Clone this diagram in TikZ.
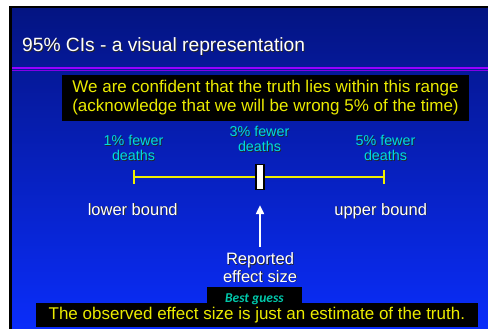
\documentclass[tikz,border=0pt]{standalone}
\usepackage{xcolor}
\usepackage{fontspec}
\setmainfont{Liberation Sans}
\newfontfamily\calib{Carlito}
\usetikzlibrary{arrows.meta}
\definecolor{slidetop}{RGB}{4,20,130}
\definecolor{slidebot}{RGB}{10,45,250}
\definecolor{rule}{RGB}{150,0,255}
\definecolor{rulethin}{RGB}{130,0,230}
\definecolor{note}{RGB}{235,235,0}
\definecolor{cilabel}{RGB}{0,220,220}
\definecolor{guess}{RGB}{0,200,170}
\definecolor{ciline}{RGB}{240,240,0}
\newcommand\shtext[1]{\leavevmode\rlap{\kern0.9pt\raisebox{-0.9pt}{\color{black!85}#1}}#1}

\begin{document}
\begin{tikzpicture}[x=1pt, y=-1pt, every node/.style={inner sep=0pt, align=center},
  cilbl/.style={text=cilabel, font=\fontsize{14.3}{15.5}\selectfont},
  bnd/.style={text=white, font=\fontsize{16.5}{16}\selectfont},
  blackbox/.style={fill=black, text=note, font=\fontsize{17}{19}\selectfont}]
  \useasboundingbox (0,0) rectangle (488,329);
  % Slide
  \fill[black] (9,6) rectangle (488,329);
  \shade[top color=slidetop, bottom color=slidebot] (12,9) rectangle (488,329);
  \draw[rule, line width=2pt] (12,67.7) -- (488,67.7);
  \draw[rulethin, line width=1pt] (12,70.8) -- (488,70.8);
  \node[anchor=base west, text=white, font=\fontsize{19.2}{23}\selectfont] (title) at (22,52)
    {\shtext{95\% CIs - a visual representation}};
  \node[blackbox, minimum width=407pt, minimum height=46pt] (conf) at (265.5,98)
    {We are confident that the truth lies within this range\\(acknowledge that we will be wrong 5\% of the time)};
  % Interval
  \node[cilbl] (lowlbl) at (133.5,148.4) {\shtext{1\% fewer}\\\shtext{deaths}};
  \node[cilbl] (midlbl) at (259.5,139.5) {\shtext{3\% fewer}\\\shtext{deaths}};
  \node[cilbl] (uplbl) at (385.5,148.4) {\shtext{5\% fewer}\\\shtext{deaths}};
  \coordinate (lower) at (133.5,176.7);
  \coordinate (upper) at (384,176.7);
  \draw[ciline, line width=2pt] (lower) -- (upper);
  \draw[ciline, line width=2pt] ([yshift=7pt]lower) -- ([yshift=-7pt]lower);
  \draw[ciline, line width=2pt] ([yshift=7pt]upper) -- ([yshift=-7pt]upper);
  \node[draw=black, fill=white, line width=1.5pt, minimum width=7.9pt, minimum height=24.8pt] (est) at (260,177) {};
  \node[bnd, anchor=base] (lowbnd) at (132.7,215) {\shtext{lower bound}};
  \node[bnd, anchor=base] (upbnd) at (380.7,215) {\shtext{upper bound}};
  % Estimate
  \node[bnd] (reported) at (260,268) {\shtext{Reported}\\\shtext{effect size}};
  \draw[white, line width=2pt, shorten >=15pt, -{Triangle[width=8pt,length=9pt]}]
    ([yshift=6pt]reported.north) -- (est.south);
  \node[blackbox, minimum width=441.7pt, minimum height=24.3pt, text height=12.3pt, text depth=3.6pt] (truth) at (256.85,315.15)
    {The observed effect size is just an estimate of the truth.};
  \node[fill=black, text=guess, font=\calib\fontsize{13.5}{15}\selectfont\bfseries\itshape,
    anchor=south, inner xsep=18.5pt, inner ysep=0.3pt, text height=14.9pt, text depth=0pt] (guessbox) at (254.35,303)
    {Best guess};
\end{tikzpicture}
\end{document}
